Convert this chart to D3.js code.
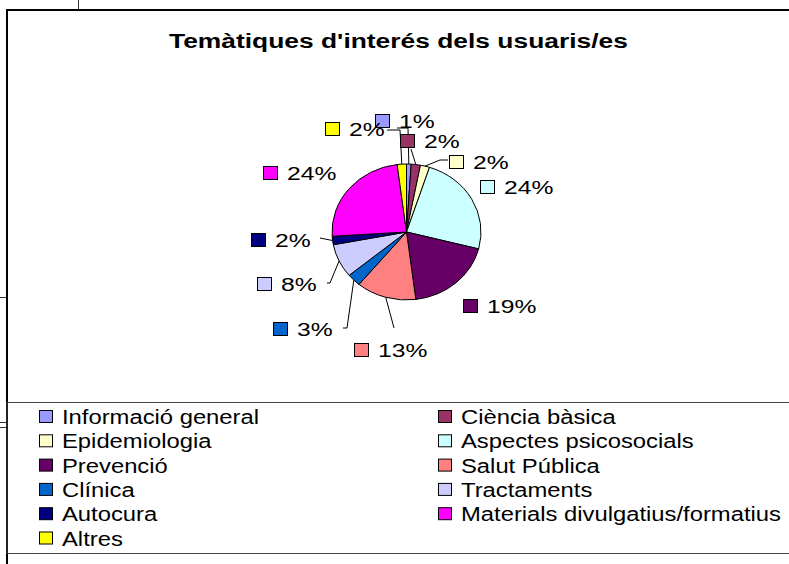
<!DOCTYPE html>
<html>
<head>
<meta charset="utf-8">
<script src="https://cdn.jsdelivr.net/npm/d3@7"></script>
<style>
  body { margin: 0; background: #fff; }
  svg { display: block; font-family: "Liberation Sans", Arial, sans-serif; }
  .slice { stroke: #000; stroke-width: 1px; vector-effect: non-scaling-stroke; }
  .key { stroke: #000; stroke-width: 1px; }
  .leader { fill: none; stroke: #000; stroke-width: 1px; }
</style>
</head>
<body>
<script>
const categories = [
  "Informació general",
  "Ciència bàsica",
  "Epidemiologia",
  "Aspectes psicosocials",
  "Prevenció",
  "Salut Pública",
  "Clínica",
  "Tractaments",
  "Autocura",
  "Materials divulgatius/formatius",
  "Altres",
];
const values = [1, 2, 2, 24, 19, 13, 3, 8, 2, 24, 2];
const colors = [
  "#9999ff", "#993366", "#ffffcc", "#ccffff", "#660066", "#ff8080",
  "#0066cc", "#ccccff", "#000080", "#ff00ff", "#ffff00",
];
const title = "Temàtiques d'interés dels usuaris/es";

// label placement (Excel moved labels): key offset from pie centre,
// leader end relative to key, horizontal tick of leader
const labelLayout = [
  { dx: -31.5, dy: -118, leader: [22, 14, 11] },
  { dx: -6.5, dy: -98, leader: [11, 15, 0] },
  { dx: 42.5, dy: -77, leader: [-1, 5, -8] },
  { dx: 73.5, dy: -52 },
  { dx: 56.5, dy: 67 },
  { dx: -52.5, dy: 111, leader: [40, -15, 0] },
  { dx: -133.5, dy: 90, leader: [70, 6, 4] },
  { dx: -149.5, dy: 45, leader: [70, 6, 3] },
  { dx: -155.5, dy: 1, leader: [69, 5, 0] },
  { dx: -143.5, dy: -66 },
  { dx: -81.5, dy: -110, leader: [62, 8, 13] },
];

const width = 789;
const height = 564;
const cx = 406.5;
const cy = 232;
const rx = 74.5;
const ry = 68;

const svg = d3
  .select("body")
  .append("svg")
  .attr("width", width)
  .attr("height", height);

// spreadsheet grid fragments around the chart object
const grid = svg.append("g").attr("stroke", "#333").attr("stroke-width", 1);
grid.append("line").attr("x1", 78.5).attr("x2", 78.5).attr("y1", 0).attr("y2", 10);
[297.5, 422.5, 427.5].forEach((y) =>
  grid.append("line").attr("x1", 0).attr("x2", 7).attr("y1", y).attr("y2", y)
);

// chart frame (runs off the right and bottom)
svg
  .append("path")
  .attr("d", `M7,${height} V10 H${width}`)
  .attr("fill", "none")
  .attr("stroke", "#000")
  .attr("stroke-width", 2);

svg
  .append("text")
  .attr("transform", "translate(169,48) scale(1.32,1)")
  .attr("font-size", 20)
  .attr("font-weight", "bold")
  .text(title);

// Pie
const pie = d3.pie().sort(null).value((d) => d)(values);
const arc = d3.arc().innerRadius(0).outerRadius(rx);
const edge = d3.arc().innerRadius(rx).outerRadius(rx);

svg
  .append("g")
  .attr("transform", `translate(${cx},${cy}) scale(1,${ry / rx})`)
  .selectAll("path")
  .data(pie)
  .join("path")
  .attr("class", "slice")
  .attr("fill", (d, i) => colors[i])
  .attr("d", arc);

// Leader lines
const leaderLine = d3.line();
pie.forEach((d, i) => {
  const lay = labelLayout[i];
  if (!lay.leader) return;
  const [ex, ey] = edge.centroid(d);
  const start = [cx + ex, cy + ey * (ry / rx)];
  const end = [cx + lay.dx + lay.leader[0], cy + lay.dy + lay.leader[1]];
  const elbow = [end[0] + lay.leader[2], end[1]];
  svg
    .append("path")
    .attr("class", "leader")
    .attr("d", leaderLine([start, elbow, end]));
});

// Data labels
const labels = svg
  .append("g")
  .selectAll("g")
  .data(pie)
  .join("g")
  .attr(
    "transform",
    (d, i) => `translate(${cx + labelLayout[i].dx},${cy + labelLayout[i].dy})`
  );

labels
  .append("rect")
  .attr("class", "key")
  .attr("x", 0.5)
  .attr("y", 0.5)
  .attr("width", 14)
  .attr("height", 13)
  .attr("fill", (d, i) => colors[i]);

labels
  .append("text")
  .attr("transform", "translate(24,14) scale(1.3,1)")
  .attr("font-size", 19)
  .text((d) => `${d.data}%`);

// Legend
const legend = svg.append("g");
legend
  .append("rect")
  .attr("x", 7)
  .attr("y", 402.5)
  .attr("width", 900)
  .attr("height", 151)
  .attr("fill", "none")
  .attr("stroke", "#444")
  .attr("stroke-width", 1);

const legendCols = [39, 438];
const rowStep = 24.3;

const items = legend
  .selectAll("g.item")
  .data(categories)
  .join("g")
  .attr("class", "item")
  .attr(
    "transform",
    (d, i) =>
      `translate(${legendCols[i % 2]},${410 + Math.floor(i / 2) * rowStep})`
  );

items
  .append("rect")
  .attr("class", "key")
  .attr("x", 0.5)
  .attr("y", 0.5)
  .attr("width", 13)
  .attr("height", 12)
  .attr("fill", (d, i) => colors[i]);

items
  .append("text")
  .attr("transform", "translate(23,14) scale(1.19,1)")
  .attr("font-size", 20)
  .text((d) => d);
</script>
</body>
</html>
